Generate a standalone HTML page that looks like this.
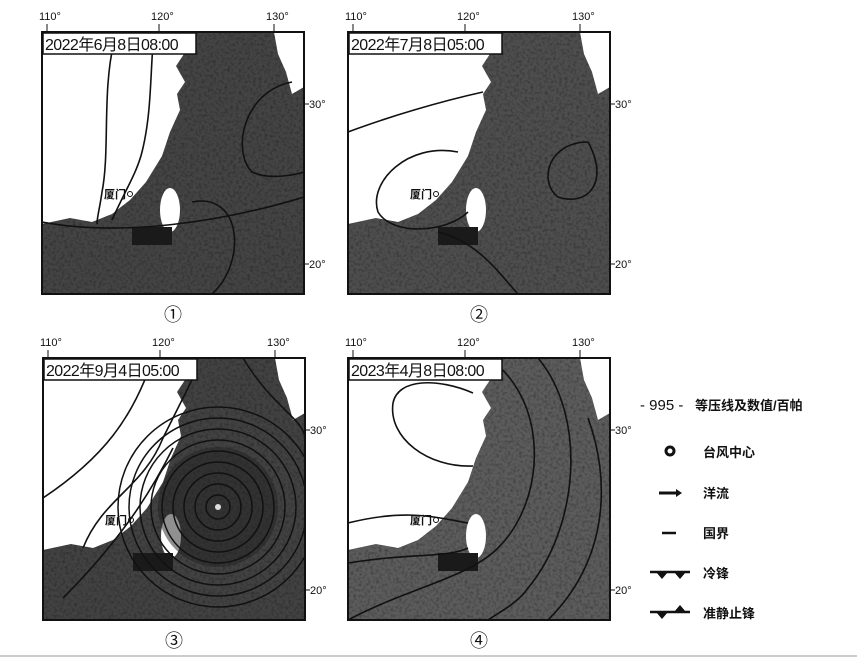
<!DOCTYPE html>
<html><head><meta charset="utf-8"><style>
body{margin:0;width:857px;height:662px;background:#fff;overflow:hidden;font-family:"Liberation Sans","Noto Sans CJK SC",sans-serif;position:relative}
svg{position:absolute;left:0;top:0}
</style></head><body>
<svg id="s" width="857" height="662" viewBox="0 0 857 662">
<defs>
<filter id="noise" x="0" y="0" width="100%" height="100%">
<feTurbulence type="fractalNoise" baseFrequency="0.35" numOctaves="2" seed="3"/>
<feColorMatrix type="matrix" values="0 0 0 0 0.15  0 0 0 0 0.15  0 0 0 0 0.15  0 0 0 -2.2 1.3"/>
<feComposite in2="SourceGraphic" operator="in"/>
</filter>
</defs>
<line x1="0" y1="656" x2="857" y2="656" stroke="#ccc" stroke-width="2"/>
</svg>
<script>
const panelTitles=["2022年6月8日08:00","2022年7月8日05:00","2022年9月4日05:00","2023年4月8日08:00"];
const panelNums=["①","②","③","④"];
const panelX=[42,348,43,348];
const panelY=[32,32,358,358];
const seaTone=["#444","#4e4e4e","#424242","#5c5c5c"];
const isoLabels=[["1010","1010"],["1005","1010"],["1010","1005"],["1025","1020","1015"]];
const S=document.getElementById('s');
const NS="http://www.w3.org/2000/svg";
function mk(t,a,p){const e=document.createElementNS(NS,t);for(const k in a)e.setAttribute(k,a[k]);(p||S).appendChild(e);return e;}
const land="M0,0 L126,0 L131,14 L142,22 L134,34 L143,50 L135,62 L138,78 L128,100 L120,124 L104,150 L88,168 L70,182 L50,190 L28,186 L0,192 Z";
const curves=[
 ["M112,0 C108,40 110,80 100,120 C95,140 85,155 70,188","M72,10 C60,60 68,120 60,160 C58,175 55,185 55,192","M250,50 C200,60 190,120 210,140 C230,150 262,140 262,140","M0,190 C80,205 180,190 262,165","M150,170 C200,160 205,230 170,262"],
 ["M0,100 C40,85 90,70 135,60","M110,120 C60,110 20,150 30,180 C45,205 100,200 120,180","M240,110 C200,110 190,150 210,165 C240,175 262,150 240,110","M90,200 C130,210 150,240 170,262"],
 ["M40,190 C60,140 100,130 120,80 C130,60 140,40 150,20","M20,240 C80,180 110,130 130,90","M0,140 C60,100 90,60 110,0","M200,0 C230,50 260,60 262,80"],
 ["M125,35 C90,20 50,20 45,45 C40,80 80,110 125,108","M0,165 C60,150 90,160 120,165","M0,205 C60,195 100,200 120,190","M140,0 C200,40 200,140 150,190 C120,220 60,230 0,262","M190,0 C240,60 230,170 180,230 C170,245 150,255 140,262","M240,60 C262,120 262,200 200,262"]
];
for(let i=0;i<4;i++){
 const x0=panelX[i],y0=panelY[i],W=262,H=262;
 const g=mk('g',{transform:`translate(${x0},${y0})`});
 
 
 const cp=mk('clipPath',{id:'c'+i},g);mk('rect',{x:0,y:0,width:W,height:H},cp);
 const inner=mk('g',{'clip-path':`url(#c${i})`},g);
 const sea=mk('rect',{x:0,y:0,width:W,height:H,fill:seaTone[i]},inner);
 
 
 mk('rect',{x:0,y:0,width:W,height:H,fill:'#888',filter:'url(#noise)',opacity:0.5},inner).setAttribute('style','mix-blend-mode:multiply');
 const l=mk('path',{d:land,fill:'#fff'},inner);
 
 
 mk('ellipse',{cx:128,cy:178,rx:10,ry:22,fill:'#fff'},inner);
 mk('path',{d:"M232,0 L262,0 L262,55 L250,62 L244,40 L236,22 Z",fill:'#fff'},inner);
 mk('rect',{x:90,y:195,width:40,height:18,fill:'#1a1a1a'},inner);
 if(i===2){mk('circle',{cx:175,cy:149,r:60,fill:'#222',opacity:0.5},inner);}
 for(const d of curves[i]){const c=mk('path',{d,fill:'none',stroke:'#111','stroke-width':1.6},inner);}
 if(i===2){for(let r=12;r<=100;r+=11){const c=mk('circle',{cx:175,cy:149,r,fill:'none',stroke:'#111','stroke-width':1.5},inner);}
  const tc=mk('circle',{cx:175,cy:149,r:3,fill:'#ddd'},inner);}
 mk('rect',{x:0,y:0,width:W,height:H,fill:'none',stroke:'#111','stroke-width':2},g);
 const tb=mk('rect',{x:1,y:1,width:153,height:21,fill:'#fff',stroke:'#111','stroke-width':1.5},g);
 
 const tt=mk('text',{x:3,y:18,'font-size':16,fill:'#111','letter-spacing':'-0.6'},g);tt.textContent=panelTitles[i];
 
 const xm=mk('text',{x:62,y:166,'font-size':11,fill:'#111','font-weight':'bold'},g);xm.textContent="厦门";
 
 mk('circle',{cx:88,cy:162,r:2.5,fill:'none',stroke:'#111'},g);
 const lonX=[5,117,232],lonT=["110°","120°","130°"];
 for(let k=0;k<3;k++){const t=mk('text',{x:lonX[k]-8,y:-12,'font-size':11,fill:'#111'},g);t.textContent=lonT[k];mk('line',{x1:lonX[k],y1:-8,x2:lonX[k],y2:0,stroke:'#111'},g);}
 const latY=[72,232],latT=["30°","20°"];
 for(let k=0;k<2;k++){mk('line',{x1:W,y1:latY[k],x2:W+5,y2:latY[k],stroke:'#111'},g);const t=mk('text',{x:W+5,y:latY[k]+4,'font-size':11,fill:'#111'},g);t.textContent=latT[k];}
 const n=mk('text',{x:W/2,y:H+27,'font-size':18,fill:'#111','text-anchor':'middle'},g);n.textContent=panelNums[i];
 
}
const legItems=["等压线及数值/百帕","台风中心","洋流","国界","冷锋","准静止锋"];
const legY=[405,452,493,533,573,613];
const lg=mk('g',{});
for(let k=0;k<legItems.length;k++){
 const y=legY[k];
 const t=mk('text',{x:k==0?695:703,y:y+5,'font-size':13,'font-weight':'bold',fill:'#111'},lg);t.textContent=legItems[k];
 
}
const t0=mk('text',{x:640,y:410,'font-size':15,fill:'#111'},lg);t0.textContent="- 995 -";
mk('circle',{cx:670,cy:451,r:4,fill:'none',stroke:'#111','stroke-width':3},lg);
mk('path',{d:"M659,493 L680,493",stroke:'#111','stroke-width':3},lg);mk('path',{d:"M676,489 L682,493 L676,497 Z",fill:'#111'},lg);
mk('line',{x1:662,y1:533,x2:676,y2:533,stroke:'#111','stroke-width':2.5},lg);
mk('line',{x1:650,y1:572,x2:690,y2:572,stroke:'#111','stroke-width':2.5},lg);
mk('path',{d:"M656,572 L668,572 L662,579 Z M674,572 L686,572 L680,579 Z",fill:'#111'},lg);
mk('line',{x1:650,y1:612,x2:690,y2:612,stroke:'#111','stroke-width':2.5},lg);
mk('path',{d:"M656,612 L668,612 L662,619 Z M674,612 L686,612 L680,605 Z",fill:'#111'},lg);
</script>
</body></html>
